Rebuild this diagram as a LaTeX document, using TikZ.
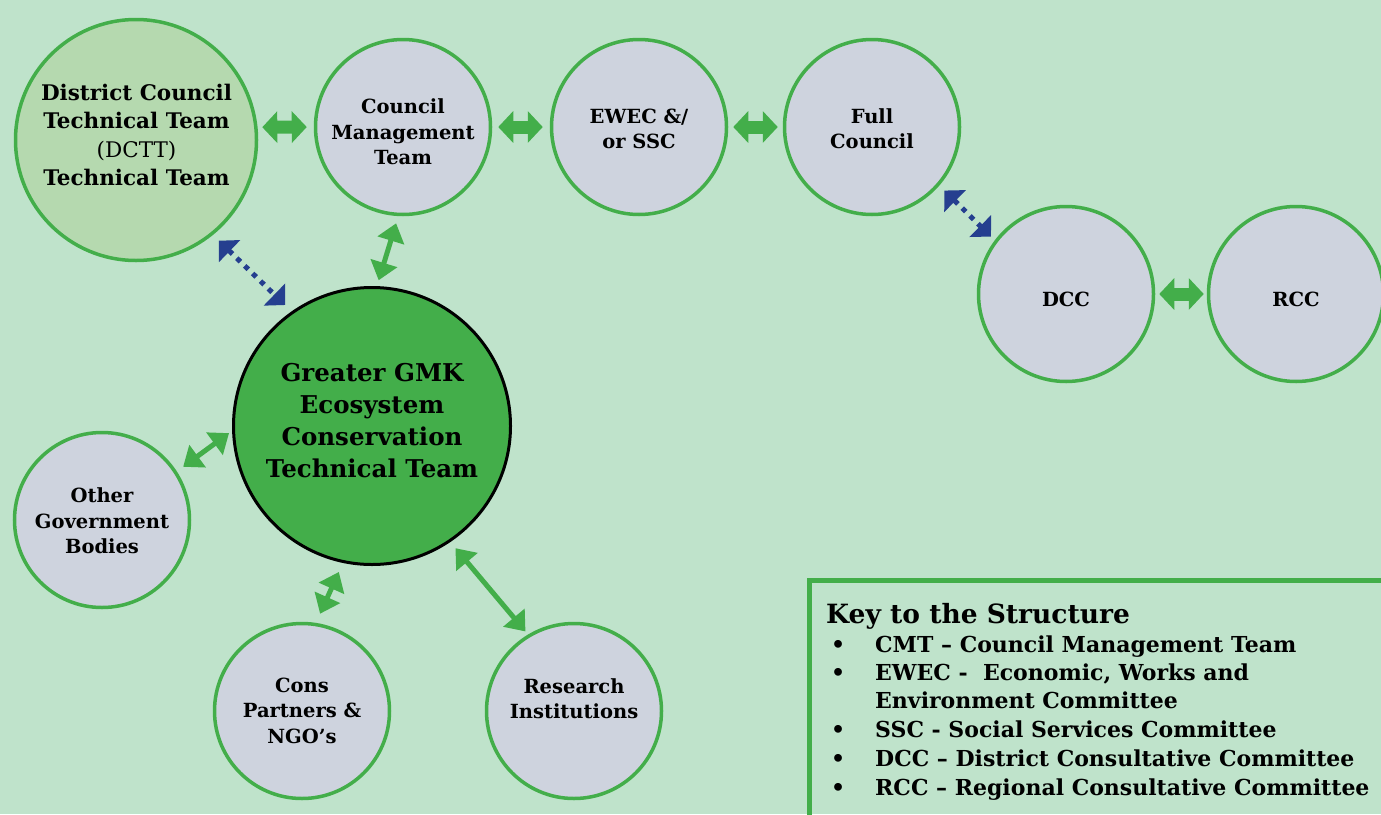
\documentclass[tikz,border=0pt]{standalone}
\usepackage{fontspec}
\setmainfont{DejaVu Serif}
\usetikzlibrary{arrows.meta}
\definecolor{bg}{HTML}{BFE3CB}
\definecolor{grn}{HTML}{43AE4A}
\definecolor{gry}{HTML}{CED3DE}
\definecolor{lgrn}{HTML}{B5D9AF}
\definecolor{blu}{HTML}{253F8F}
\begin{document}
\begin{tikzpicture}[x=1pt,y=-1pt,
  circ/.style={circle, draw=grn, line width=3.5pt, fill=gry, inner sep=0pt, minimum size=175pt},
  lbl/.style={align=center, inner sep=0pt, font=\fontsize{19.5}{25.5}\selectfont\bfseries},
  fat/.style={draw=grn, line width=13pt, {Triangle[length=15pt,width=31pt]}-{Triangle[length=15pt,width=31pt]}},
  thinarr/.style={draw=grn, line width=5pt, {Triangle[length=18pt,width=27pt]}-{Triangle[length=18pt,width=27pt]}},
  dotarr/.style={draw=blu, line width=5pt, dash pattern=on 5pt off 6pt, {Triangle[length=15pt,width=30pt]}-{Triangle[length=15pt,width=30pt]}},
  keyitem/.style={anchor=base west, inner sep=0pt, font=\fontsize{22}{28}\selectfont\bfseries},
]
\useasboundingbox (0,0) rectangle (1381,814);
\clip (0,0) rectangle (1381,814);
\fill[bg] (0,0) rectangle (1381,814);

% circles
\node[circ, fill=lgrn, minimum size=241pt] (dctt) at (136,140) {};
\node[circ] (cmt) at (403,127) {};
\node[circ] (ewec) at (639,127) {};
\node[circ] (fc) at (872,127) {};
\node[circ] (dcc) at (1066,294) {};
\node[circ] (rcc) at (1296,294) {};
\node[circ, fill=grn, draw=black, line width=3pt, minimum size=277pt] (main) at (372,426) {};
\node[circ] (other) at (102,520) {};
\node[circ] (cons) at (302,711) {};
\node[circ] (res) at (574,711) {};

% labels
\node[lbl, font=\fontsize{21.5}{28.5}\selectfont\bfseries] (dcttl) at (136.5,135) {District Council\\Technical Team\\{\mdseries (DCTT)}\\Technical Team};
\node[lbl] (cmtl) at (403,132) {Council\\Management\\Team};
\node[lbl] (ewecl) at (639,129) {EWEC \&/\\or SSC};
\node[lbl] (fcl) at (872,128.5) {Full\\Council};
\node[lbl] (dccl) at (1066,299.5) {DCC};
\node[lbl] (rccl) at (1296,299.5) {RCC};
\node[lbl, font=\fontsize{24.5}{32}\selectfont\bfseries] (mainl) at (372,421) {Greater GMK\\Ecosystem\\Conservation\\Technical Team};
\node[lbl] (otherl) at (102,521) {Other\\Government\\Bodies};
\node[lbl] (consl) at (302,710.5) {Cons\\Partners \&\\NGO’s};
\node[lbl] (resl) at (574,698.5) {Research\\Institutions};

% horizontal connectors
\draw[fat, shorten <=4.7pt, shorten >=7pt] (dctt.6.1) -- (cmt.west);
\draw[fat, shorten <=6pt, shorten >=7pt] (cmt.east) -- (ewec.west);
\draw[fat, shorten <=5pt, shorten >=5pt] (ewec.east) -- (fc.west);
\draw[fat, shorten <=4pt, shorten >=3pt] (dcc.east) -- (rcc.west);

% diagonal connectors
\draw[thinarr, shorten <=6.1pt, shorten >=7.5pt] (main.88.7) -- (cmt.-93);
\draw[thinarr, shorten <=7.8pt, shorten >=3.8pt] (other.33) -- (main.182.8);
\draw[thinarr, shorten <=10pt, shorten >=9.9pt] (cons.81) -- (main.-102);
\draw[thinarr, shorten <=8pt, shorten >=4pt] (main.-56.5) -- (res.121.4);
\draw[dotarr, shorten <=8.2pt, shorten >=9.1pt] (dctt.-51.3) -- (main.125.9);
\draw[dotarr, shorten <=7.1pt, shorten >=5.3pt] (fc.-41) -- (dcc.143.2);

% key
\draw[grn, line width=5pt] (809.5,580.5) rectangle (1400,840);
\node[keyitem, font=\fontsize{26.5}{30}\selectfont\bfseries] (keyt) at (826,623) {Key to the Structure};
\node[keyitem] (b1) at (831,652) {•};
\node[keyitem] (k1) at (875,652) {CMT – Council Management Team};
\node[keyitem] (b2) at (831,680) {•};
\node[keyitem] (k2) at (875,680) {EWEC -\ \ Economic, Works and};
\node[keyitem] (k2b) at (875,708) {Environment Committee};
\node[keyitem] (b3) at (831,737) {•};
\node[keyitem] (k3) at (875,737) {SSC - Social Services Committee};
\node[keyitem] (b4) at (831,766) {•};
\node[keyitem] (k4) at (875,766) {DCC – District Consultative Committee};
\node[keyitem] (b5) at (831,795) {•};
\node[keyitem] (k5) at (875,795) {RCC – Regional Consultative Committee};
\end{tikzpicture}
\end{document}
